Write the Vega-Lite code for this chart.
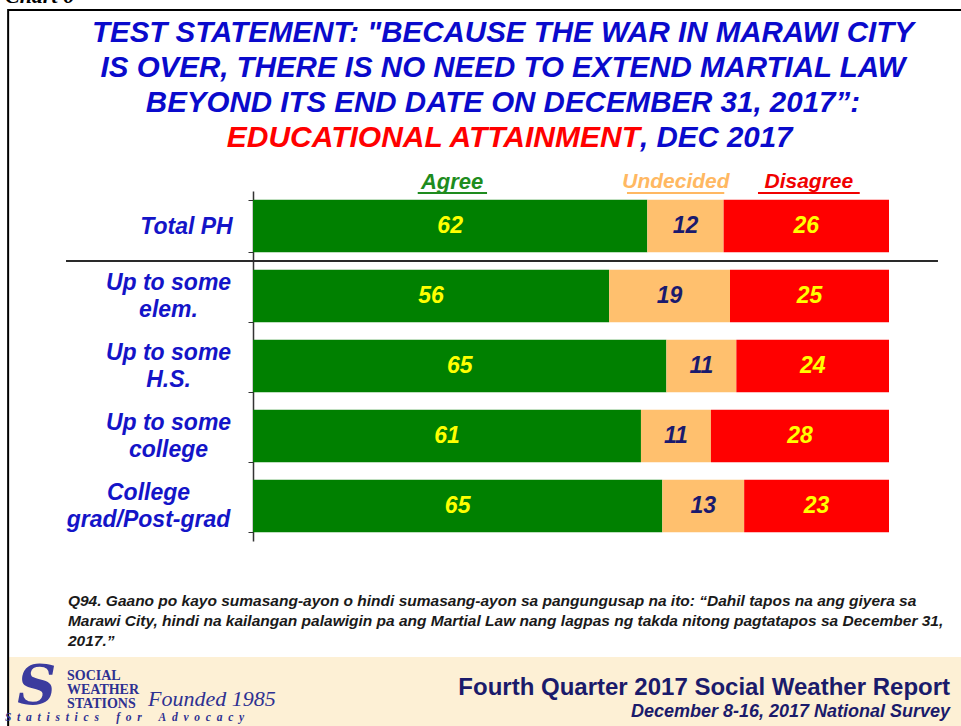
{
  "$schema": "https://vega.github.io/schema/vega-lite/v6.json",
  "width": 636,
  "height": 350,
  "autosize": "none",
  "padding": {"left": 253, "top": 191, "right": 72, "bottom": 185},
  "background": "white",
  "config": {"view": {"stroke": null}, "font": "Liberation Sans"},
  "datasets": {
    "survey": [
      {"group": "Total PH", "response": "Agree", "value": 62},
      {"group": "Total PH", "response": "Undecided", "value": 12},
      {"group": "Total PH", "response": "Disagree", "value": 26},
      {"group": "Up to some elem.", "response": "Agree", "value": 56},
      {"group": "Up to some elem.", "response": "Undecided", "value": 19},
      {"group": "Up to some elem.", "response": "Disagree", "value": 25},
      {"group": "Up to some H.S.", "response": "Agree", "value": 65},
      {"group": "Up to some H.S.", "response": "Undecided", "value": 11},
      {"group": "Up to some H.S.", "response": "Disagree", "value": 24},
      {"group": "Up to some college", "response": "Agree", "value": 61},
      {"group": "Up to some college", "response": "Undecided", "value": 11},
      {"group": "Up to some college", "response": "Disagree", "value": 28},
      {"group": "College grad/Post-grad", "response": "Agree", "value": 65},
      {"group": "College grad/Post-grad", "response": "Undecided", "value": 13},
      {"group": "College grad/Post-grad", "response": "Disagree", "value": 23}
    ]
  },
  "layer": [
    {
      "data": {"values": [{}]},
      "layer": [
        {
          "mark": {"type": "rect", "color": "#FDF0D5"},
          "encoding": {
            "x": {"datum": -0.385, "type": "quantitative", "scale": {"domain": [0, 1], "nice": false}, "axis": null},
            "x2": {"datum": 1.12},
            "y": {"datum": 466, "type": "quantitative", "scale": {"domain": [0, 350], "reverse": true, "nice": false, "zero": false}, "axis": null},
            "y2": {"datum": 540}
          }
        },
        {
          "mark": {"type": "rect", "fill": null, "fillOpacity": 0, "stroke": "#000000", "strokeWidth": 2},
          "encoding": {
            "x": {"datum": -0.385, "type": "quantitative", "scale": {"domain": [0, 1], "nice": false}, "axis": null},
            "x2": {"datum": 1.12},
            "y": {"datum": -181, "type": "quantitative", "scale": {"domain": [0, 350], "reverse": true, "nice": false, "zero": false}, "axis": null},
            "y2": {"datum": 545}
          }
        },
        {
          "mark": {"type": "rule", "color": "#2a2a2a", "strokeWidth": 2},
          "encoding": {
            "x": {"datum": -0.294, "type": "quantitative", "scale": {"domain": [0, 1], "nice": false}, "axis": null},
            "x2": {"datum": 1.077},
            "y": {"datum": 70, "type": "quantitative", "scale": {"domain": [0, 350], "reverse": true, "nice": false, "zero": false}, "axis": null}
          }
        },
        {
          "mark": {"type": "rule", "color": "#1E8C1E", "strokeWidth": 2},
          "encoding": {
            "x": {"datum": 0.259, "type": "quantitative", "scale": {"domain": [0, 1], "nice": false}, "axis": null},
            "x2": {"datum": 0.368},
            "y": {"datum": 2, "type": "quantitative", "scale": {"domain": [0, 350], "reverse": true, "nice": false, "zero": false}, "axis": null}
          }
        },
        {
          "mark": {"type": "rule", "color": "#FFB862", "strokeWidth": 2},
          "encoding": {
            "x": {"datum": 0.588, "type": "quantitative", "scale": {"domain": [0, 1], "nice": false}, "axis": null},
            "x2": {"datum": 0.741},
            "y": {"datum": 2, "type": "quantitative", "scale": {"domain": [0, 350], "reverse": true, "nice": false, "zero": false}, "axis": null}
          }
        },
        {
          "mark": {"type": "rule", "color": "#F00000", "strokeWidth": 2},
          "encoding": {
            "x": {"datum": 0.794, "type": "quantitative", "scale": {"domain": [0, 1], "nice": false}, "axis": null},
            "x2": {"datum": 0.954},
            "y": {"datum": 2, "type": "quantitative", "scale": {"domain": [0, 350], "reverse": true, "nice": false, "zero": false}, "axis": null}
          }
        },
        {
          "mark": {"type": "text", "text": "Agree", "fontSize": 22, "fontWeight": "bold", "fontStyle": "italic", "baseline": "middle", "align": "center", "color": "#1E8C1E"},
          "encoding": {
            "x": {"datum": 0.313, "type": "quantitative", "scale": {"domain": [0, 1], "nice": false}, "axis": null},
            "y": {"datum": -9, "type": "quantitative", "scale": {"domain": [0, 350], "reverse": true, "nice": false, "zero": false}, "axis": null}
          }
        },
        {
          "mark": {"type": "text", "text": "Undecided", "fontSize": 21, "fontWeight": "bold", "fontStyle": "italic", "baseline": "middle", "align": "center", "color": "#FFB862"},
          "encoding": {
            "x": {"datum": 0.665, "type": "quantitative", "scale": {"domain": [0, 1], "nice": false}, "axis": null},
            "y": {"datum": -9, "type": "quantitative", "scale": {"domain": [0, 350], "reverse": true, "nice": false, "zero": false}, "axis": null}
          }
        },
        {
          "mark": {"type": "text", "text": "Disagree", "fontSize": 21, "fontWeight": "bold", "fontStyle": "italic", "baseline": "middle", "align": "center", "color": "#F00000"},
          "encoding": {
            "x": {"datum": 0.874, "type": "quantitative", "scale": {"domain": [0, 1], "nice": false}, "axis": null},
            "y": {"datum": -9, "type": "quantitative", "scale": {"domain": [0, 350], "reverse": true, "nice": false, "zero": false}, "axis": null}
          }
        },
        {
          "mark": {"type": "text", "text": ["TEST STATEMENT: \"BECAUSE THE WAR IN MARAWI CITY", "IS OVER, THERE IS NO NEED TO EXTEND MARTIAL LAW", "BEYOND ITS END DATE ON DECEMBER 31, 2017\u201d:"], "lineHeight": 35, "fontSize": 29.5, "fontWeight": "bold", "fontStyle": "italic", "baseline": "middle", "align": "center", "color": "#0A0ACC"},
          "encoding": {
            "x": {"datum": 0.393, "type": "quantitative", "scale": {"domain": [0, 1], "nice": false}, "axis": null},
            "y": {"datum": -158, "type": "quantitative", "scale": {"domain": [0, 350], "reverse": true, "nice": false, "zero": false}, "axis": null}
          }
        },
        {
          "mark": {"type": "text", "text": "EDUCATIONAL ATTAINMENT", "fontSize": 30, "fontWeight": "bold", "fontStyle": "italic", "baseline": "middle", "align": "right", "color": "#FF0000"},
          "encoding": {
            "x": {"datum": 0.6085, "type": "quantitative", "scale": {"domain": [0, 1], "nice": false}, "axis": null},
            "y": {"datum": -53, "type": "quantitative", "scale": {"domain": [0, 350], "reverse": true, "nice": false, "zero": false}, "axis": null}
          }
        },
        {
          "mark": {"type": "text", "text": ", DEC 2017", "fontSize": 29.5, "fontWeight": "bold", "fontStyle": "italic", "baseline": "middle", "align": "left", "color": "#0A0ACC"},
          "encoding": {
            "x": {"datum": 0.6085, "type": "quantitative", "scale": {"domain": [0, 1], "nice": false}, "axis": null},
            "y": {"datum": -53, "type": "quantitative", "scale": {"domain": [0, 350], "reverse": true, "nice": false, "zero": false}, "axis": null}
          }
        },
        {
          "mark": {"type": "text", "text": "Chart 6", "font": "Liberation Serif", "fontSize": 22, "fontWeight": "bold", "fontStyle": "italic", "baseline": "alphabetic", "align": "left", "color": "#000000"},
          "encoding": {
            "x": {"datum": -0.39, "type": "quantitative", "scale": {"domain": [0, 1], "nice": false}, "axis": null},
            "y": {"datum": -188, "type": "quantitative", "scale": {"domain": [0, 350], "reverse": true, "nice": false, "zero": false}, "axis": null}
          }
        },
        {
          "mark": {"type": "text", "text": ["Q94. Gaano po kayo sumasang-ayon  o hindi sumasang-ayon  sa pangungusap  na ito: \u201cDahil tapos na ang giyera sa", "Marawi City, hindi na kailangan palawigin pa ang Martial Law nang lagpas ng takda nitong pagtatapos sa December 31,", "2017.\u201d"], "lineHeight": 20, "fontSize": 15.5, "fontWeight": "bold", "fontStyle": "italic", "baseline": "middle", "align": "left", "color": "#1A1A1A"},
          "encoding": {
            "x": {"datum": -0.291, "type": "quantitative", "scale": {"domain": [0, 1], "nice": false}, "axis": null},
            "y": {"datum": 410, "type": "quantitative", "scale": {"domain": [0, 350], "reverse": true, "nice": false, "zero": false}, "axis": null}
          }
        },
        {
          "mark": {"type": "text", "text": "Fourth Quarter 2017 Social Weather Report", "fontSize": 24, "fontWeight": "bold", "baseline": "middle", "align": "right", "color": "#1B1B6B"},
          "encoding": {
            "x": {"datum": 1.096, "type": "quantitative", "scale": {"domain": [0, 1], "nice": false}, "axis": null},
            "y": {"datum": 497, "type": "quantitative", "scale": {"domain": [0, 350], "reverse": true, "nice": false, "zero": false}, "axis": null}
          }
        },
        {
          "mark": {"type": "text", "text": "December 8-16, 2017 National Survey", "fontSize": 18, "fontWeight": "bold", "fontStyle": "italic", "baseline": "middle", "align": "right", "color": "#1B1B6B"},
          "encoding": {
            "x": {"datum": 1.096, "type": "quantitative", "scale": {"domain": [0, 1], "nice": false}, "axis": null},
            "y": {"datum": 521, "type": "quantitative", "scale": {"domain": [0, 350], "reverse": true, "nice": false, "zero": false}, "axis": null}
          }
        },
        {
          "mark": {"type": "text", "text": "S", "font": "DejaVu Serif", "fontSize": 54, "fontWeight": "bold", "fontStyle": "italic", "baseline": "middle", "align": "center", "color": "#3B3B9E"},
          "encoding": {
            "x": {"datum": -0.34, "type": "quantitative", "scale": {"domain": [0, 1], "nice": false}, "axis": null},
            "y": {"datum": 497, "type": "quantitative", "scale": {"domain": [0, 350], "reverse": true, "nice": false, "zero": false}, "axis": null}
          }
        },
        {
          "mark": {"type": "text", "text": ["SOCIAL", "WEATHER", "STATIONS"], "lineHeight": 14, "font": "Liberation Serif", "fontSize": 14, "fontWeight": "bold", "baseline": "middle", "align": "left", "color": "#2E3192"},
          "encoding": {
            "x": {"datum": -0.2925, "type": "quantitative", "scale": {"domain": [0, 1], "nice": false}, "axis": null},
            "y": {"datum": 485, "type": "quantitative", "scale": {"domain": [0, 350], "reverse": true, "nice": false, "zero": false}, "axis": null}
          }
        },
        {
          "mark": {"type": "text", "text": "Founded 1985", "font": "Liberation Serif", "fontSize": 22, "fontStyle": "italic", "baseline": "middle", "align": "left", "color": "#2E3192"},
          "encoding": {
            "x": {"datum": -0.165, "type": "quantitative", "scale": {"domain": [0, 1], "nice": false}, "axis": null},
            "y": {"datum": 508, "type": "quantitative", "scale": {"domain": [0, 350], "reverse": true, "nice": false, "zero": false}, "axis": null}
          }
        },
        {
          "mark": {"type": "text", "text": "S\u00a0 t\u00a0 a\u00a0 t\u00a0 i\u00a0 s\u00a0 t\u00a0 i\u00a0 c\u00a0 s\u00a0 \u00a0 \u00a0 f\u00a0 o\u00a0 r\u00a0 \u00a0 \u00a0 A\u00a0 d\u00a0 v\u00a0 o\u00a0 c\u00a0 a\u00a0 c\u00a0 y", "font": "Liberation Serif", "fontSize": 11.5, "fontWeight": "bold", "fontStyle": "italic", "baseline": "middle", "align": "left", "color": "#2E3192"},
          "encoding": {
            "x": {"datum": -0.39, "type": "quantitative", "scale": {"domain": [0, 1], "nice": false}, "axis": null},
            "y": {"datum": 527, "type": "quantitative", "scale": {"domain": [0, 350], "reverse": true, "nice": false, "zero": false}, "axis": null}
          }
        }
      ]
    },
    {
      "data": {"name": "survey"},
      "transform": [
        {"calculate": "indexof(['Agree','Undecided','Disagree'], datum.response)", "as": "ord"},
        {"stack": "value", "groupby": ["group"], "sort": [{"field": "ord"}], "offset": "normalize", "as": ["v0", "v1"]},
        {"calculate": "(datum.v0 + datum.v1) / 2", "as": "mid"}
      ],
      "encoding": {
        "y": {
          "field": "group", "type": "nominal",
          "sort": ["Total PH", "Up to some elem.", "Up to some H.S.", "Up to some college", "College grad/Post-grad"],
          "scale": {"paddingInner": 0.25, "paddingOuter": 0.125},
          "axis": {
            "title": null, "grid": false,
            "domainColor": "#333333", "domainWidth": 1.5,
            "tickColor": "#333333", "tickSize": 5, "tickBand": "extent",
            "labelFontSize": 23,
            "labelFontWeight": "bold", "labelFontStyle": "italic", "labelColor": "#1414C8",
            "labelAlign": "center",
            "labelPadding": {"condition": [{"test": "datum.label == 'Total PH'", "value": 62}, {"test": "datum.label == 'College grad/Post-grad'", "value": 100}], "value": 80},
            "labelOffset": {"condition": {"test": "datum.label == 'Total PH'", "value": 0}, "value": -13.5},
            "labelLineHeight": 27, "labelLimit": 300,
            "labelExpr": "datum.label == 'Up to some elem.' ? ['Up to some', 'elem.'] : datum.label == 'Up to some H.S.' ? ['Up to some', 'H.S.'] : datum.label == 'Up to some college' ? ['Up to some', 'college'] : datum.label == 'College grad/Post-grad' ? ['College', 'grad/Post-grad'] : datum.label"
          }
        }
      },
      "layer": [
        {
          "mark": {"type": "bar"},
          "encoding": {
            "x": {
              "field": "v0", "type": "quantitative",
              "scale": {"domain": [0, 1], "nice": false},
              "axis": {"title": null, "values": [0, 0.2, 0.4, 0.6, 0.8, 1], "labels": false, "ticks": false, "domain": false, "grid": true, "gridColor": "#D9D9D9", "gridWidth": 1}
            },
            "x2": {"field": "v1"},
            "color": {
              "field": "response", "type": "nominal",
              "scale": {"domain": ["Agree", "Undecided", "Disagree"], "range": ["#008000", "#FFC06E", "#FF0000"]},
              "legend": null
            }
          }
        },
        {
          "mark": {"type": "text", "fontSize": 23, "fontWeight": "bold", "fontStyle": "italic", "baseline": "middle", "align": "center"},
          "encoding": {
            "x": {"field": "mid", "type": "quantitative", "scale": {"domain": [0, 1], "nice": false}, "axis": null},
            "text": {"field": "value", "type": "quantitative"},
            "color": {"condition": {"test": "datum.response === 'Undecided'", "value": "#1A1A6E"}, "value": "#FFFF00"}
          }
        }
      ]
    }
  ],
  "resolve": {"scale": {"y": "independent"}, "axis": {"y": "independent"}}
}
